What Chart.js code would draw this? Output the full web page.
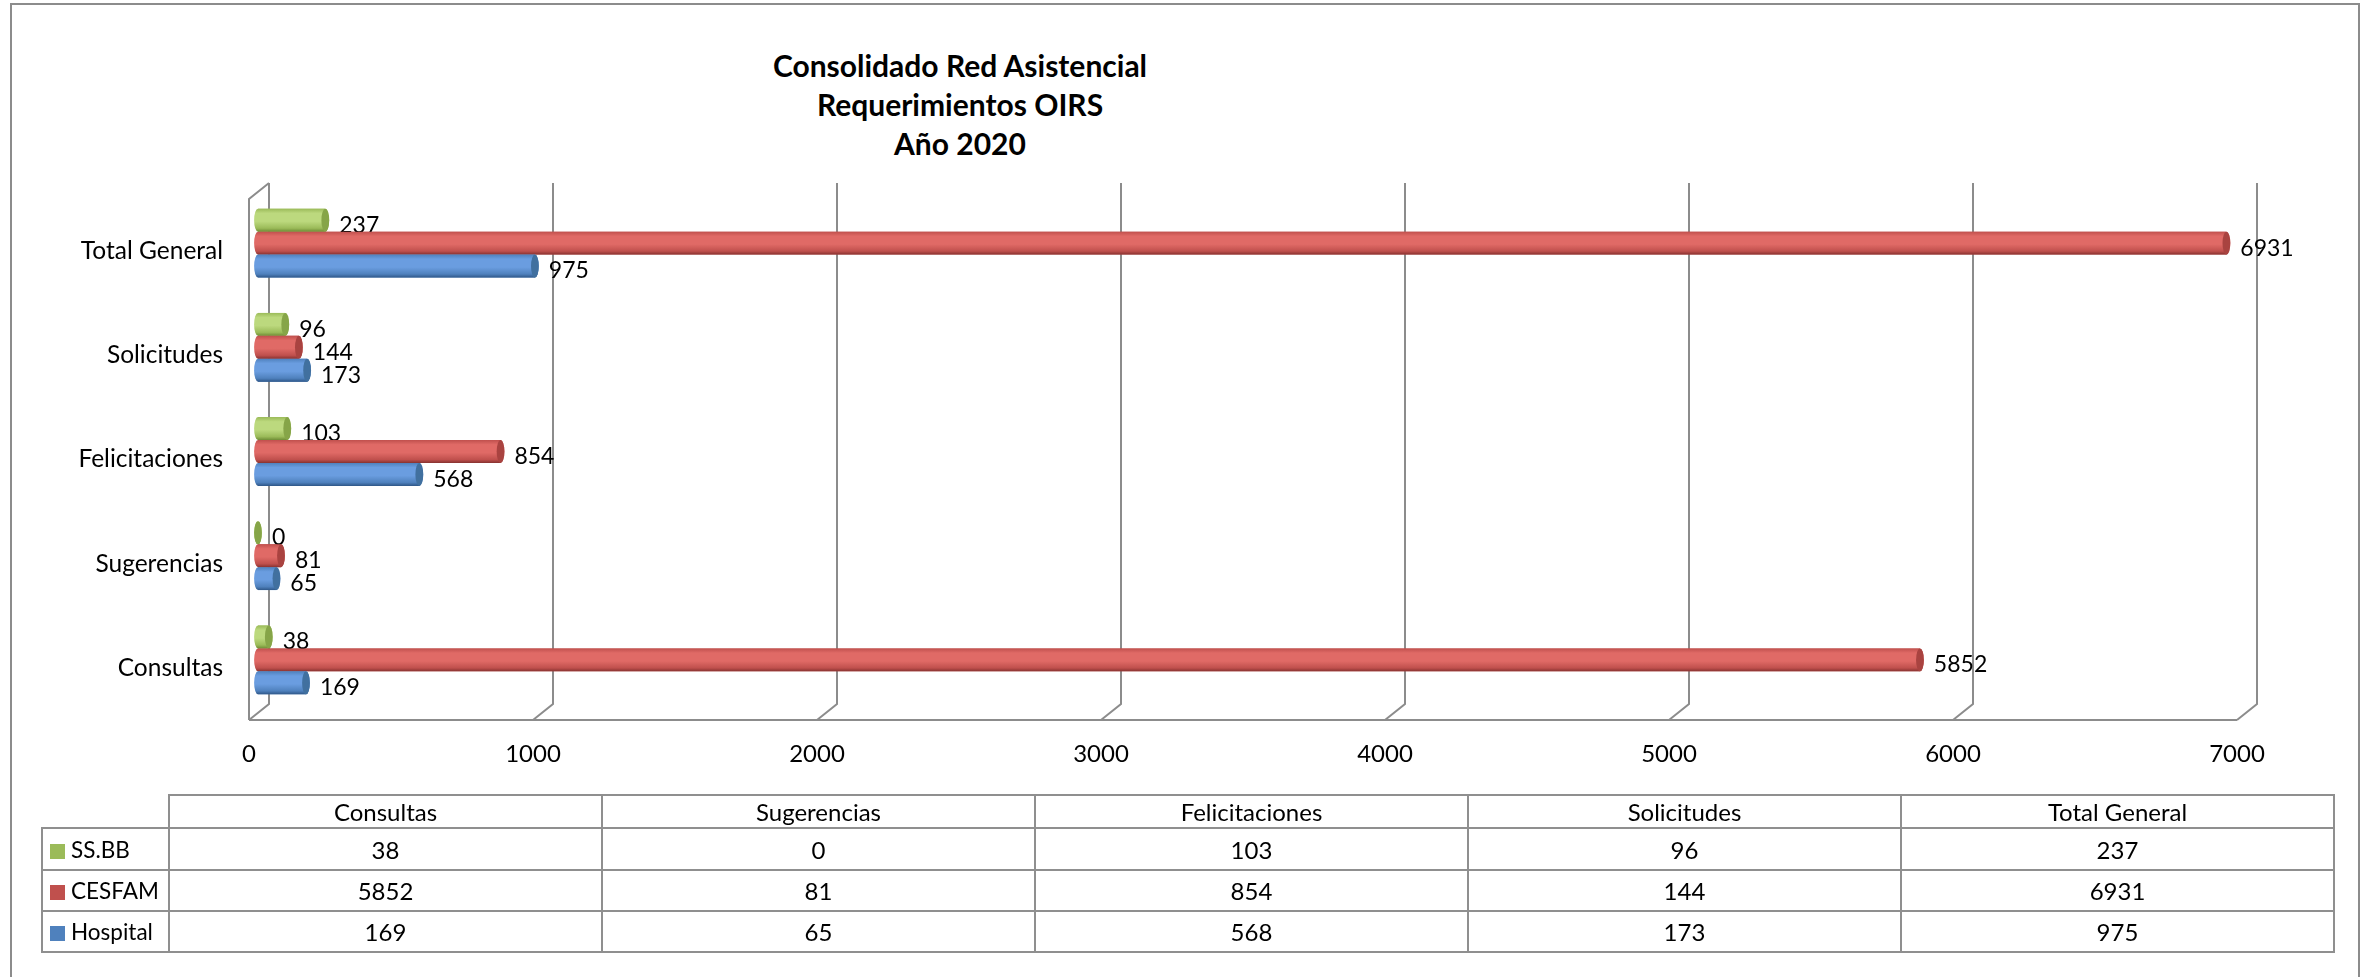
<!DOCTYPE html>
<html>
<head>
<meta charset="utf-8">
<script src="https://cdn.jsdelivr.net/npm/chart.js@4"></script>
<style>
  body { margin: 0; background: #fff; overflow: hidden; font-family: Lato, sans-serif; }
  #frame { position: absolute; left: 10px; top: 3px; width: 2350px; height: 1100px; border: 2px solid #8c8c8c; box-sizing: border-box; }
  #wrap { position: absolute; left: 0; top: 0; width: 2373px; height: 977px; }
  #title { position: absolute; left: 560px; width: 800px; top: 46px; text-align: center; font-weight: bold; font-size: 30px; line-height: 39px; color: #000; }
  #tbl { position: absolute; left: 41px; top: 794px; border-collapse: collapse; table-layout: fixed; font-size: 24px; color: #000; }
  #tbl td { border: 2px solid #8f8f8f; text-align: center; padding: 0; overflow: hidden; }
  #tbl td.blank { border-top: none; border-left: none; }
  #tbl td.leg { text-align: left; padding-left: 7px; white-space: nowrap; font-size: 22.5px; }
  #tbl .sq { display: inline-block; width: 15px; height: 15px; margin-right: 6px; vertical-align: -1px; }
</style>
</head>
<body>
<div id="frame"></div>
<div id="title">Consolidado Red Asistencial<br>Requerimientos OIRS<br>Año 2020</div>
<div id="wrap"><canvas id="chart1"></canvas></div>
<table id="tbl"></table>
<script>
// data (table order)
categories = ['Consultas', 'Sugerencias', 'Felicitaciones', 'Solicitudes', 'Total General']
ssbb = [38, 0, 103, 96, 237]
cesfam = [5852, 81, 854, 144, 6931]
hospital = [169, 65, 568, 173, 975]
seriesNames = ['SS.BB', 'CESFAM', 'Hospital']
xTicks = [0, 1000, 2000, 3000, 4000, 5000, 6000, 7000]

// colours: base, light, dark, cap
colors = [
  ['#9BBB59', '#bcd97e', '#6e8c35', '#86a548'], //green
  ['#C0504D', '#e06a66', '#873230', '#a94340'], //red
  ['#4F81BD', '#6a9de0', '#2f5788', '#41709f']  //blue
]
seriesData = [ssbb, cesfam, hospital]

// 3d back wall + floor lines
const wallPlugin = {
  id: 'wall',
  beforeDatasetsDraw(chart) {
    const ctx = chart.ctx, a = chart.chartArea, xs = chart.scales.x
    ctx.save()
    ctx.strokeStyle = '#8c8c8c'
    ctx.lineWidth = 2
    ctx.beginPath()
    xTicks.forEach(v => {
      const p = xs.getPixelForValue(v)
      ctx.moveTo(p + 11, a.top - 8)
      ctx.lineTo(p + 11, a.bottom - 8)
      ctx.lineTo(p - 9, a.bottom + 8)
    })
    ctx.moveTo(a.left - 9, a.bottom + 8)
    ctx.lineTo(a.right - 9, a.bottom + 8)
    ctx.moveTo(a.left - 9, a.bottom + 8)
    ctx.lineTo(a.left - 9, a.top + 8)
    ctx.lineTo(a.left + 11, a.top - 8)
    ctx.stroke()
    ctx.restore()
  }
}

// cylinder shading + value labels
const cylPlugin = {
  id: 'cyl',
  afterDatasetsDraw(chart) {
    const ctx = chart.ctx
    ctx.save()
    chart.data.datasets.forEach((ds, i) => {
      const c = colors[i]
      chart.getDatasetMeta(i).data.forEach((bar, j) => {
        const {x, y, base, height} = bar.getProps(['x', 'y', 'base', 'height'], true)
        const r = height / 2, rx = height * 0.17
        const top = y - r, bot = y + r
        const g = ctx.createLinearGradient(0, top, 0, bot)
        g.addColorStop(0, c[0])
        g.addColorStop(0.2, c[1])
        g.addColorStop(0.55, c[1])
        g.addColorStop(0.85, c[0])
        g.addColorStop(1, c[2])
        ctx.beginPath()
        ctx.moveTo(base, top)
        ctx.lineTo(x, top)
        ctx.ellipse(x, y, rx, r, 0, -Math.PI / 2, Math.PI / 2)
        ctx.lineTo(base, bot)
        ctx.ellipse(base, y, rx, r, 0, Math.PI / 2, Math.PI * 1.5)
        ctx.closePath()
        ctx.fillStyle = g
        ctx.fill()
        ctx.beginPath()
        ctx.ellipse(x, y, rx, r, 0, 0, Math.PI * 2)
        ctx.fillStyle = c[3]
        ctx.fill()
        // value label
        ctx.fillStyle = '#000'
        ctx.font = '23px Lato'
        ctx.textAlign = 'left'
        ctx.textBaseline = 'middle'
        ctx.fillText(ds.data[j], x + rx + 10, y + 5)
      })
    })
    ctx.restore()
  }
}

// chart shows Total General at the top
rev = arr => arr.slice().reverse()

const ctx1 = document.getElementById('chart1').getContext('2d')
const myChart = new Chart(ctx1, {
  type: 'bar',
  data: {
    labels: rev(categories),
    datasets: seriesData.map((d, i) => ({
      label: seriesNames[i],
      data: rev(d),
      backgroundColor: colors[i][0],
      borderWidth: 0
    }))
  },
  options: {
    indexAxis: 'y',
    responsive: true,
    maintainAspectRatio: false,
    animation: false,
    layout: { padding: { left: 0, top: 191, right: 127, bottom: 0 } },
    datasets: { bar: { categoryPercentage: 0.66, barPercentage: 1 } },
    plugins: { legend: { display: false }, tooltip: { enabled: false } },
    scales: {
      x: {
        min: 0, max: 7000,
        ticks: { stepSize: 1000, padding: 28, labelOffset: -9, color: '#000', font: { family: 'Lato', size: 24 },
          callback: v => String(v) },
        grid: { display: false, drawTicks: false },
        border: { display: false },
        afterFit: s => { s.height = 265 }
      },
      y: {
        ticks: { padding: 35, labelOffset: 8, color: '#000', font: { family: 'Lato', size: 24.5 } },
        grid: { display: false, drawTicks: false },
        border: { display: false },
        afterFit: s => { s.width = 258 }
      }
    }
  },
  plugins: [wallPlugin, cylPlugin]
})

// data table under the chart
const tbl = document.getElementById('tbl')
let html = '<colgroup><col style="width:127px">'
categories.forEach(() => { html += '<col style="width:433px">' })
html += '</colgroup><tr style="height:33px"><td class="blank"></td>'
categories.forEach(c => { html += '<td>' + c + '</td>' })
html += '</tr>'
seriesData.forEach((d, i) => {
  html += '<tr style="height:' + (i == 0 ? 42 : 41) + 'px"><td class="leg"><span class="sq" style="background:' + colors[i][0] + '"></span>' + seriesNames[i] + '</td>'
  d.forEach(v => { html += '<td>' + v + '</td>' })
  html += '</tr>'
})
tbl.innerHTML = html
</script>
</body>
</html>
